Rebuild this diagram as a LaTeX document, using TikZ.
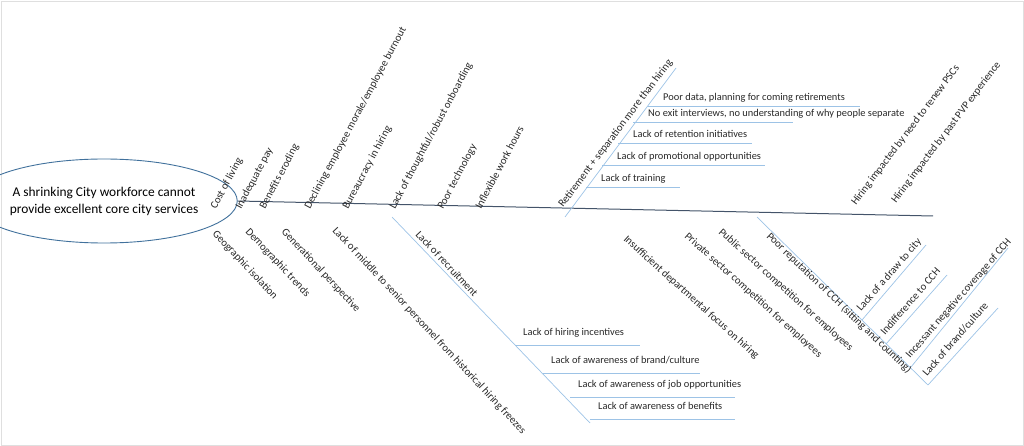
\documentclass[tikz,border=0pt]{standalone}
\usepackage{fontspec}
\setmainfont{Carlito}
\usetikzlibrary{shapes.geometric}
\begin{document}
\begin{tikzpicture}[x=1pt,y=-1pt,
  bone/.style={draw={rgb,255:red,157;green,195;blue,230},line width=0.7pt},
  up/.style={anchor=base west,rotate=62,inner sep=0pt,font=\fontsize{10.8}{12}\selectfont,text={rgb,255:red,40;green,40;blue,40}},
  dn/.style={anchor=base west,rotate=-47,inner sep=0pt,font=\fontsize{10.8}{12}\selectfont,text={rgb,255:red,40;green,40;blue,40}},
  hz/.style={anchor=base west,inner sep=0pt,font=\fontsize{10.4}{12}\selectfont,text={rgb,255:red,40;green,40;blue,40}}]
\useasboundingbox (0,0) rectangle (1024,446);
\draw[gray!25] (1,1) rectangle (1023,445);
% head
\node[ellipse,draw={rgb,255:red,65;green,113;blue,156},line width=0.9pt,minimum width=204pt,minimum height=84pt,inner sep=0pt,align=center,font=\fontsize{13.4}{17}\selectfont] (head) at (104,201) {A shrinking City workforce cannot\\provide excellent core city services};
\coordinate (spE) at (933,216);
\draw[draw={rgb,255:red,68;green,84;blue,106},line width=1pt] (head.east) -- (spE);
% upper causes
\node[up] (u1) at (216,210) {Cost of living};
\node[up] (u2) at (241,210) {Inadequate pay};
\node[up] (u3) at (265,210) {Benefits eroding};
\node[up] (u4) at (310,210) {Declining employee morale/employee burnout};
\node[up] (u5) at (348,210) {Bureaucracy in hiring};
\node[up] (u6) at (395,210) {Lack of thoughtful/robust onboarding};
\node[up] (u7) at (443,210) {Poor technology};
\node[up] (u8) at (481,210) {Inflexible work hours};
% retirement bone
\coordinate (rA) at (565,217);
\coordinate (rB) at (676,68);
\draw[bone] (rA) -- (rB);
\node[up,rotate=-9] (rl) at (563,208) {Retirement + separation more than hiring};
\foreach \y/\xa/\xb/\t/\n in {106/648/860/{Poor data, planning for coming retirements}/r1,
  122/633/793/{No exit interviews, no understanding of why people separate}/r2,
  143/618/752/{Lack of retention initiatives}/r3,
  165/602/765/{Lack of promotional opportunities}/r4,
  187/586/680/{Lack of training}/r5}{
  \coordinate (\n a) at (\xa,\y); \coordinate (\n b) at (\xb,\y);
  \draw[bone] (\n a) -- (\n b);
  \node[hz] (\n) at (\xa+15,\y-5) {\t};
}
\node[up,rotate=-9] (h1) at (856,206) {Hiring impacted by need to renew PSCs};
\node[up,rotate=-9] (h2) at (896,204) {Hiring impacted by past PVP experience};
% lower causes
\node[dn] (d1) at (212,234) {Geographic isolation};
\node[dn] (d2) at (245,232) {Demographic trends};
\node[dn] (d3) at (281,232) {Generational perspective};
\node[dn] (d4) at (332,231) {Lack of middle to senior personnel from historical hiring freezes};
% recruitment bone
\coordinate (cA) at (392,217);
\coordinate (cB) at (590,423);
\draw[bone] (cA) -- (cB);
\node[dn] (cl) at (415,235) {Lack of recruitment};
\foreach \y/\xa/\xb/\t/\n in {345/515/640/{Lack of hiring incentives}/c1,
  373/543/700/{Lack of awareness of brand/culture}/c2,
  397/570/735/{Lack of awareness of job opportunities}/c3,
  419/590/735/{Lack of awareness of benefits}/c4}{
  \coordinate (\n a) at (\xa,\y); \coordinate (\n b) at (\xb,\y);
  \draw[bone] (\n a) -- (\n b);
  \node[hz] (\n) at (\xa+8,\y-10) {\t};
}
\node[dn,rotate=5] (d5) at (623,240) {Insufficient departmental focus on hiring};
\node[dn,rotate=5] (d6) at (684,237) {Private sector competition for employees};
\node[dn,rotate=5] (d7) at (718,233) {Public sector competition for employees};
% reputation bone
\coordinate (pA) at (757,217);
\coordinate (pB) at (928,385);
\draw[bone] (pA) -- (pB);
\node[dn,rotate=3] (pl) at (766,237) {Poor reputation of CCH (sitting and counting)};
\foreach \xa/\ya/\xb/\yb/\t/\n in {862/320/926/245/{Lack of a draw to city}/s1,
  886/344/947/275/{Indifference to CCH}/s2,
  911/367/1008/248/{Incessant negative coverage of CCH}/s3,
  928/385/998/308/{Lack of brand/culture}/s4}{
  \coordinate (\n a) at (\xa,\ya); \coordinate (\n b) at (\xb,\yb);
  \draw[bone] (\n a) -- (\n b);
  \node[up,rotate=-13] (\n) at (\xa-1,\ya-8) {\t};
}
\end{tikzpicture}
\end{document}
